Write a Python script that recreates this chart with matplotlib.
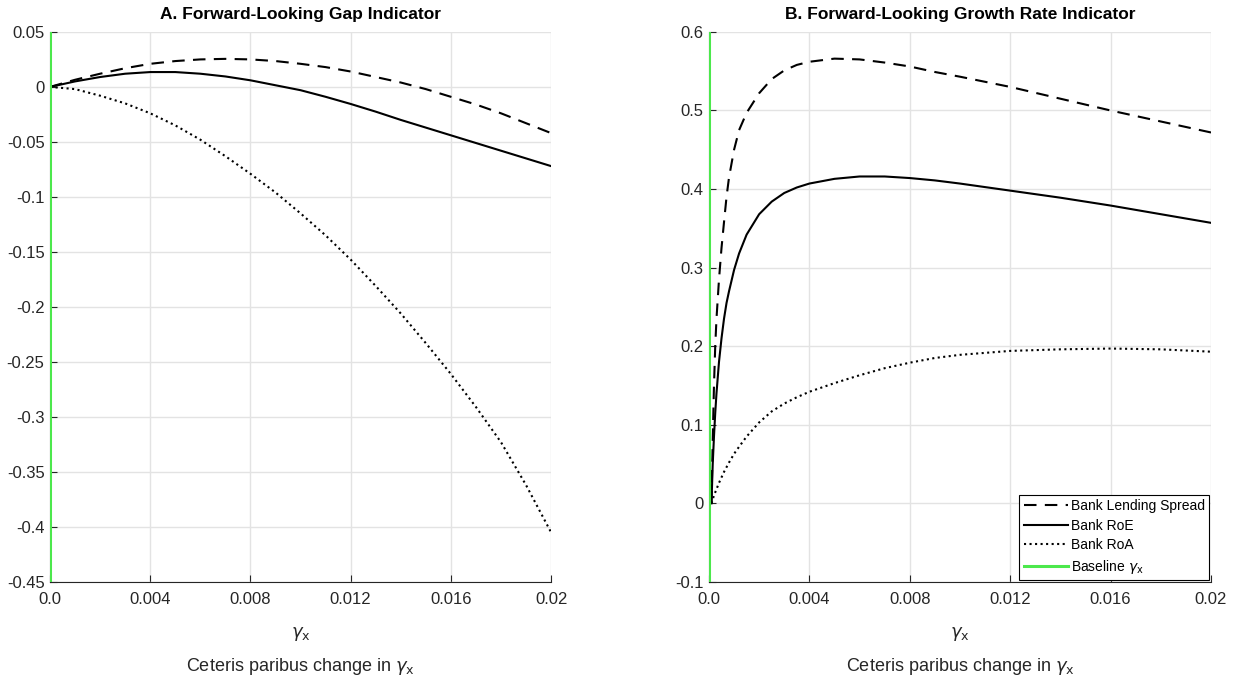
"""
Forward-looking indicators under a ceteris paribus change in gamma_x.
Panel A: gap indicator, panel B: growth rate indicator.
"""

import matplotlib
matplotlib.use('Agg')
import matplotlib.pyplot as plt

plt.rcParams['font.family'] = ['Liberation Sans', 'DejaVu Sans']
plt.rcParams['mathtext.fontset'] = 'dejavusans'

# Baseline value of gamma_x (green vertical line)
BASELINE_GAMMA = 0.0

# Panel A: gap indicator
gap_x = [0.000, 0.001, 0.002, 0.003, 0.004, 0.005, 0.006, 0.007, 0.008, 0.009, 0.010,
         0.011, 0.012, 0.013, 0.014, 0.015, 0.016, 0.017, 0.018, 0.019, 0.020]
gap_spread = [0.0, 0.0065, 0.012, 0.017, 0.021, 0.0235, 0.025, 0.0255, 0.025, 0.0235, 0.021,
              0.018, 0.014, 0.009, 0.004, -0.002, -0.009, -0.016, -0.024, -0.033, -0.042]
gap_roe = [0.0, 0.005, 0.009, 0.012, 0.0135, 0.0135, 0.012, 0.0095, 0.006, 0.0015, -0.003,
           -0.009, -0.0155, -0.0225, -0.030, -0.037, -0.044, -0.051, -0.058, -0.065, -0.072]
gap_roa = [0.0, -0.002, -0.008, -0.015, -0.024, -0.035, -0.048, -0.063, -0.079, -0.096, -0.115,
           -0.135, -0.157, -0.181, -0.206, -0.233, -0.261, -0.291, -0.323, -0.362, -0.405]

# Panel B: growth rate indicator (denser grid near zero where curves are steep)
growth_x = [0.0001, 0.00015, 0.0002, 0.00025, 0.0003, 0.0004, 0.0005, 0.0006, 0.0007, 0.0008,
            0.001, 0.0012, 0.0015, 0.002, 0.0025, 0.003, 0.0035, 0.004, 0.005, 0.006,
            0.007, 0.008, 0.009, 0.010, 0.012, 0.014, 0.016, 0.018, 0.020]
growth_spread = [0.0, 0.08, 0.15, 0.20, 0.235, 0.285, 0.325, 0.358, 0.39, 0.415,
                 0.45, 0.475, 0.497, 0.522, 0.540, 0.551, 0.558, 0.562, 0.566, 0.565,
                 0.561, 0.556, 0.549, 0.543, 0.530, 0.515, 0.500, 0.486, 0.472]
growth_roe = [0.0, 0.05, 0.085, 0.115, 0.14, 0.18, 0.21, 0.235, 0.255, 0.27,
              0.297, 0.318, 0.342, 0.368, 0.384, 0.395, 0.402, 0.407, 0.413, 0.416,
              0.416, 0.414, 0.411, 0.407, 0.398, 0.389, 0.379, 0.368, 0.357]
growth_roa = [0.0, 0.005, 0.01, 0.014, 0.018, 0.026, 0.033, 0.04, 0.046, 0.052,
              0.063, 0.072, 0.085, 0.103, 0.117, 0.127, 0.135, 0.142, 0.153, 0.163,
              0.172, 0.179, 0.185, 0.189, 0.194, 0.196, 0.197, 0.196, 0.193]

# Ticks
x_ticks = [0.0, 0.004, 0.008, 0.012, 0.016, 0.02]
x_tick_labels = ['0.0', '0.004', '0.008', '0.012', '0.016', '0.02']
gap_y_ticks = [0.05, 0.0, -0.05, -0.1, -0.15, -0.2, -0.25, -0.3, -0.35, -0.4, -0.45]
gap_y_labels = ['0.05', '0', '-0.05', '-0.1', '-0.15', '-0.2', '-0.25', '-0.3', '-0.35', '-0.4', '-0.45']
growth_y_ticks = [0.6, 0.5, 0.4, 0.3, 0.2, 0.1, 0.0, -0.1]
growth_y_labels = ['0.6', '0.5', '0.4', '0.3', '0.2', '0.1', '0', '-0.1']

SERIES_LABELS = ['Bank Lending Spread', 'Bank RoE', 'Bank RoA', r'Baseline $\gamma_{\mathrm{x}}$']
GREEN = '#4ce84c'
AXIS_GREY = '#262626'
XLABEL = '$\\gamma_{\\mathrm{x}}$\nCeteris paribus change in $\\gamma_{\\mathrm{x}}$'


def style_axes(ax, y_ticks, y_labels, ylim, title):
    ax.set_xlim(0, 0.02)
    ax.set_ylim(*ylim)
    ax.set_xticks(x_ticks)
    ax.set_xticklabels(x_tick_labels)
    ax.set_yticks(y_ticks)
    ax.set_yticklabels(y_labels)
    ax.grid(True, color='#e3e3e3', linewidth=1.0)
    ax.set_axisbelow(True)
    for side in ('top', 'right'):
        ax.spines[side].set_visible(False)
    for side in ('bottom', 'left'):
        ax.spines[side].set_color(AXIS_GREY)
        ax.spines[side].set_linewidth(0.8)
    ax.tick_params(direction='in', length=5, width=0.8, colors=AXIS_GREY, labelsize=12)
    ax.tick_params(axis='x', pad=7)
    ax.tick_params(axis='y', pad=4)
    ax.set_title(title, fontsize=12.5, fontweight='bold', pad=9)
    ax.set_xlabel(XLABEL, fontsize=13, linespacing=1.9, color=AXIS_GREY, labelpad=13)


def draw_panel(ax, x, spread, roe, roa):
    ax.plot(x, spread, color='black', linewidth=1.5, dashes=(6, 4), label=SERIES_LABELS[0])
    ax.plot(x, roe, color='black', linewidth=1.5, label=SERIES_LABELS[1])
    ax.plot(x, roa, color='black', linewidth=1.5, linestyle=':', label=SERIES_LABELS[2])
    ax.axvline(BASELINE_GAMMA, color=GREEN, linewidth=2.2, zorder=5, label=SERIES_LABELS[3])


fig = plt.figure(figsize=(12.39, 6.79), dpi=100)
ax_gap = fig.add_axes([0.0404, 0.143, 0.4044, 0.810])
ax_growth = fig.add_axes([0.5722, 0.143, 0.4052, 0.810])

draw_panel(ax_gap, gap_x, gap_spread, gap_roe, gap_roa)
style_axes(ax_gap, gap_y_ticks, gap_y_labels, (-0.45, 0.05), 'A. Forward-Looking Gap Indicator')

draw_panel(ax_growth, growth_x, growth_spread, growth_roe, growth_roa)
style_axes(ax_growth, growth_y_ticks, growth_y_labels, (-0.1, 0.6),
           'B. Forward-Looking Growth Rate Indicator')

leg = ax_growth.legend(loc='lower right', fontsize=10, frameon=True, fancybox=False,
                       edgecolor='black', framealpha=1, borderaxespad=0.15, borderpad=0.3,
                       labelspacing=0.4, handlelength=3.2, handletextpad=0.2)
leg.get_frame().set_linewidth(0.8)

fig.savefig('out.png', dpi=100)
